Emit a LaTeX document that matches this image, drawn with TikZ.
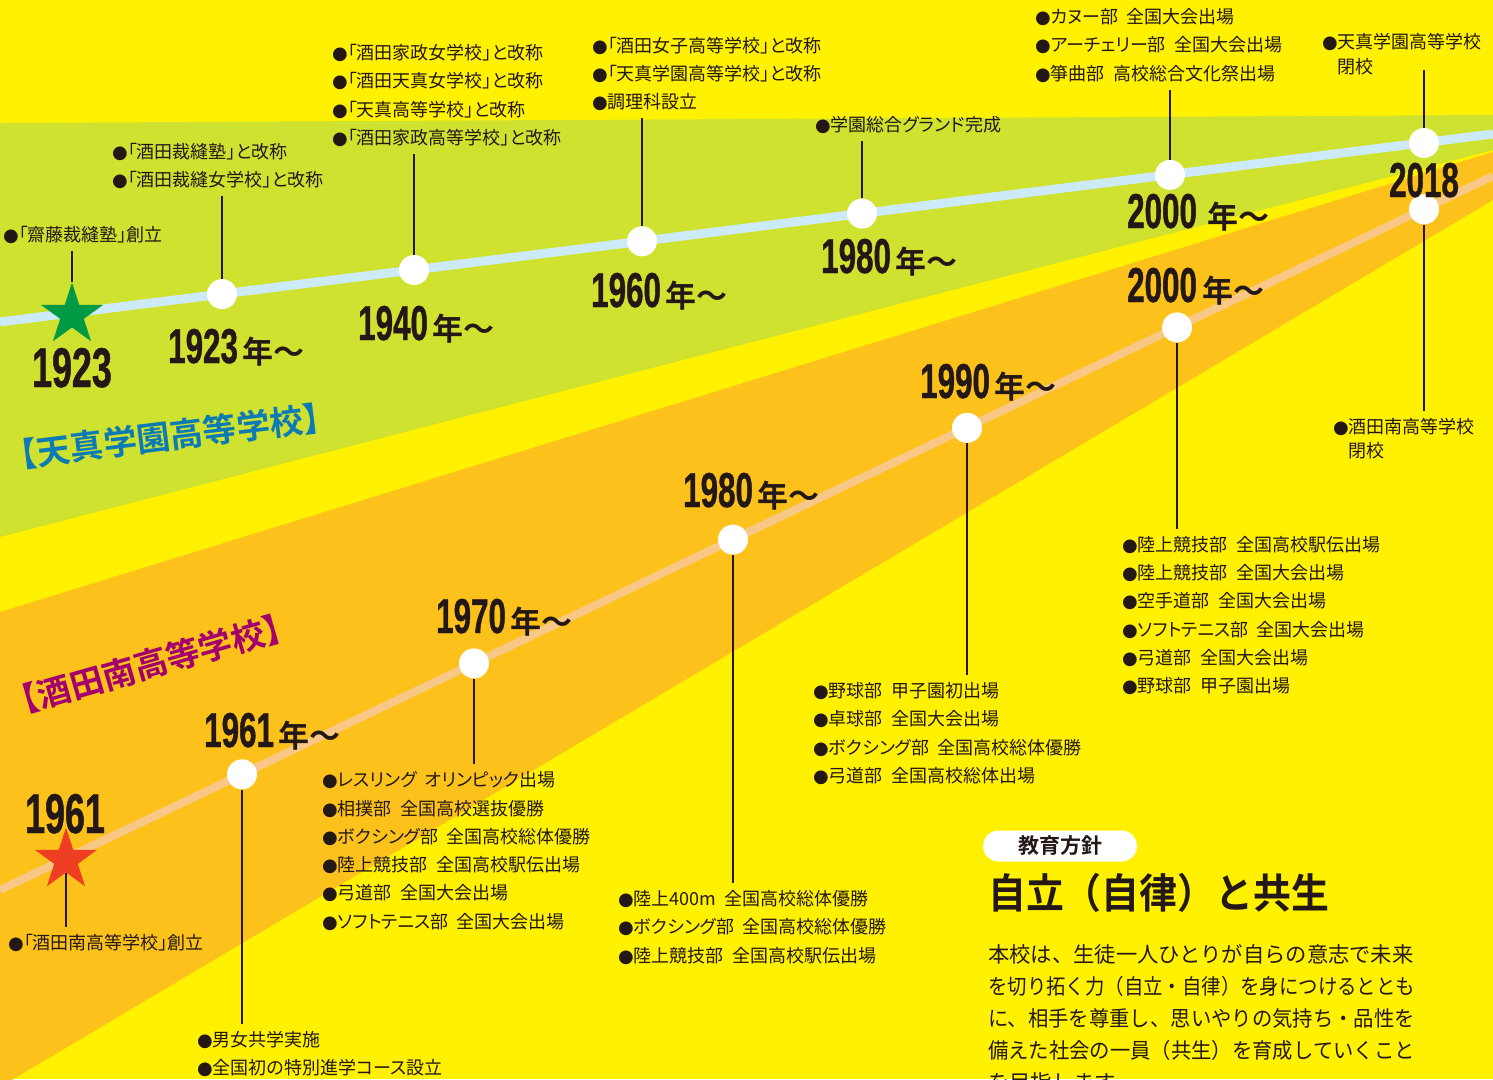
\documentclass[tikz,border=0pt]{standalone}
\usepackage{fontspec}
\usepackage{graphicx}
\usetikzlibrary{shapes.geometric}
\newfontfamily\jp{Noto Sans CJK JP}[BoldFont={Noto Sans CJK JP Bold}]
\newfontfamily\jpp{Noto Sans CJK JP}[BoldFont={Noto Sans CJK JP Bold},RawFeature=+palt]
\newfontfamily\yrfont{Liberation Sans Bold}[FakeStretch=0.64,FakeBold=0.8]
\newfontfamily\dv{DejaVu Sans}
\definecolor{bgyellow}{HTML}{FFF100}
\definecolor{bandgreen}{HTML}{CFE22F}
\definecolor{bandorange}{HTML}{FCC21B}
\definecolor{lblue}{HTML}{CDEAF8}
\definecolor{peach}{HTML}{FAC886}
\definecolor{ink}{HTML}{231815}
\definecolor{stargreen}{HTML}{009944}
\definecolor{starred}{HTML}{EE3F22}
\definecolor{tblue}{HTML}{0C7BB5}
\definecolor{tmag}{HTML}{A3006E}
\newcommand\bul{{\dv ●}}
\newcommand\jsp{\hspace{0.45em}}
\newcommand\yrl[2]{{\yrfont\fontsize{49}{49}\selectfont #1}\hspace{#2}{\jpp\bfseries\fontsize{31}{31}\selectfont 年〜}}
\tikzset{
  lst/.style={anchor=west, align=left, inner xsep=0pt, inner ysep=7pt, text=ink,
    font=\jpp\fontsize{18}{28.3}\selectfont},
  lsttwo/.style={lst, font=\jpp\fontsize{18}{24.5}\selectfont},
  yrs/.style={anchor=base west, inner sep=0pt, text=ink},
  bigyr/.style={anchor=base, inner sep=0pt, text=ink, font=\yrfont\fontsize{56}{56}\selectfont},
  tdot/.style={circle, fill=white, minimum size=30pt, inner sep=0pt},
  stemline/.style={draw=ink, line width=2.8pt},
  bigstar/.style={star, star points=5, star point ratio=2.618, inner sep=0pt, minimum size=65pt},
  partext/.style={anchor=west, inner sep=0pt, text=ink, font=\jp\fontsize{21.3}{21.3}\selectfont},
}
\begin{document}
\begin{tikzpicture}[x=1pt,y=-1pt]
\useasboundingbox (0,0) rectangle (1493,1079);
\clip (0,0) rectangle (1493,1079);
% background and bands
\fill[bgyellow] (0,0) rectangle (1493,1079);
\fill[bandgreen] (0,123) -- (1493,115) -- (1493,150) -- (0,537) -- cycle;
\fill[bandorange] (0,612) -- (1493,152) -- (1493,200) -- (0,1087) -- cycle;
% timelines
\coordinate (b0) at (0,322); \coordinate (b1) at (1493,134);
\draw[line width=9pt, lblue] (b0) -- (b1);
\coordinate (p0) at (0,890); \coordinate (p1) at (1493,176);
\draw[line width=8pt, peach] (p0) -- (p1);
% titles
\node[rotate=7, text=tblue, font=\jp\bfseries\fontsize{33.5}{33.5}\selectfont] (title1) at (170,436) {【天真学園高等学校】};
\node[rotate=16, text=tmag, font=\jp\bfseries\fontsize{33.5}{33.5}\selectfont] (title2) at (151,664) {【酒田南高等学校】};
% circles on Tenshin line
\node[tdot] (c1) at (222,294.1) {};
\node[tdot] (c2) at (414,270) {};
\node[tdot] (c3) at (642,241.3) {};
\node[tdot] (c4) at (862,213.6) {};
\node[tdot] (c5) at (1170,174.9) {};
\node[tdot] (c6) at (1424,143) {};
% circles on Sakata Minami line
\node[tdot] (d1) at (242,774.3) {};
\node[tdot] (d2) at (474,663.4) {};
\node[tdot] (d3) at (733,539.6) {};
\node[tdot] (d4) at (967,427.8) {};
\node[tdot] (d5) at (1177,327.4) {};
\node[tdot] (d6) at (1424,209.3) {};
% stars
\node[bigstar, fill=stargreen] (gstar) at (72,315) {};
\node[bigstar, fill=starred] (rstar) at (66,860) {};
% Tenshin texts
\node[lst] (t0) at (3,235) {\bul 「齋藤裁縫塾」創立};
\node[lst] (t1) at (112,166) {\bul 「酒田裁縫塾」と改称\\\bul 「酒田裁縫女学校」と改称};
\node[lst] (t2) at (332,95.5) {\bul 「酒田家政女学校」と改称\\\bul 「酒田天真女学校」と改称\\\bul 「天真高等学校」と改称\\\bul 「酒田家政高等学校」と改称};
\node[lst] (t3) at (592,74) {\bul 「酒田女子高等学校」と改称\\\bul 「天真学園高等学校」と改称\\\bul 調理科設立};
\node[lst] (t4) at (815,125) {\bul 学園総合グランド完成};
\node[lst] (t5) at (1035,45.5) {\bul カヌー部\jsp 全国大会出場\\\bul アーチェリー部\jsp 全国大会出場\\\bul 箏曲部\jsp 高校総合文化祭出場};
\node[lsttwo] (t6) at (1322,54.5) {\bul 天真学園高等学校\\\phantom{\bul}閉校};
\coordinate (t6e) at (1424,70);
% Sakata Minami texts
\node[lst] (s0) at (8,943) {\bul 「酒田南高等学校」創立};
\node[lst] (s1) at (197,1054) {\bul 男女共学実施\\\bul 全国初の特別進学コース設立};
\node[lst] (s2) at (322,851) {\bul レスリング\jsp オリンピック出場\\\bul 相撲部\jsp 全国高校選抜優勝\\\bul ボクシング部\jsp 全国高校総体優勝\\\bul 陸上競技部\jsp 全国高校駅伝出場\\\bul 弓道部\jsp 全国大会出場\\\bul ソフトテニス部\jsp 全国大会出場};
\node[lst] (s3) at (618,927.5) {\bul 陸上400m\jsp 全国高校総体優勝\\\bul ボクシング部\jsp 全国高校総体優勝\\\bul 陸上競技部\jsp 全国高校駅伝出場};
\node[lst] (s4) at (813,733.5) {\bul 野球部\jsp 甲子園初出場\\\bul 卓球部\jsp 全国大会出場\\\bul ボクシング部\jsp 全国高校総体優勝\\\bul 弓道部\jsp 全国高校総体出場};
\node[lst] (s5) at (1122,615.5) {\bul 陸上競技部\jsp 全国高校駅伝出場\\\bul 陸上競技部\jsp 全国大会出場\\\bul 空手道部\jsp 全国大会出場\\\bul ソフトテニス部\jsp 全国大会出場\\\bul 弓道部\jsp 全国大会出場\\\bul 野球部\jsp 甲子園出場};
\node[lsttwo] (s6) at (1333,439) {\bul 酒田南高等学校\\\phantom{\bul}閉校};
% stems
\draw[stemline] (gstar) -- (gstar |- t0.south);
\draw[stemline] (c1) -- (c1 |- t1.south);
\draw[stemline] (c2) -- (c2 |- t2.south);
\draw[stemline] (c3) -- (c3 |- t3.south);
\draw[stemline] (c4) -- (c4 |- t4.south);
\draw[stemline] (c5) -- (c5 |- t5.south);
\draw[stemline] (c6) -- (t6e);
\draw[stemline] (rstar) -- (rstar |- s0.north);
\draw[stemline] (d1) -- (d1 |- s1.north);
\draw[stemline] (d2) -- (d2 |- s2.north);
\draw[stemline] (d3) -- (d3 |- s3.north);
\draw[stemline] (d4) -- (d4 |- s4.north);
\draw[stemline] (d5) -- (d5 |- s5.north);
\draw[stemline] (d6) -- (d6 |- s6.north);
% year labels
\node[bigyr] (big1923) at (72,387) {1923};
\node[bigyr] (big1961) at (65,833) {1961};
\node[yrs] (y1923) at (168,363) {\yrl{1923}{5pt}};
\node[yrs] (y1940) at (358,340) {\yrl{1940}{5pt}};
\node[yrs] (y1960) at (591,307) {\yrl{1960}{5pt}};
\node[yrs] (y1980a) at (821,273) {\yrl{1980}{5pt}};
\node[yrs] (y2000a) at (1127,228) {\yrl{2000}{11pt}};
\node[anchor=base, inner sep=0pt, text=ink, font=\yrfont\fontsize{49}{49}\selectfont] (y2018) at (1424,197) {2018};
\node[yrs] (y1961) at (204,747) {\yrl{1961}{5pt}};
\node[yrs] (y1970) at (436,633) {\yrl{1970}{5pt}};
\node[yrs] (y1980b) at (683,507) {\yrl{1980}{5pt}};
\node[yrs] (y1990) at (920,398) {\yrl{1990}{5pt}};
\node[yrs] (y2000b) at (1127,302) {\yrl{2000}{6pt}};
% policy box
\node[fill=white, rounded corners=15.5pt, minimum width=154pt, minimum height=31pt, inner sep=0pt, text=ink, font=\jp\bfseries\fontsize{21}{21}\selectfont] (pill) at (1060,846) {教育方針};
\node[anchor=base west, inner sep=0pt, text=ink] (head) at (988,908) {\scalebox{0.924}[1]{\jp\bfseries\fontsize{41}{41}\selectfont 自立（自律）と共生}};
\node[partext] (par1) at (988,954) {\scalebox{1.0}[1]{本校は、生徒一人ひとりが自らの意志で未来}};
\node[partext] (par2) at (988,986) {\scalebox{0.911}[1]{を切り拓く力（自立・自律）を身につけるととも}};
\node[partext] (par3) at (988,1018) {\scalebox{0.955}[1]{に、相手を尊重し、思いやりの気持ち・品性を}};
\node[partext] (par4) at (988,1050) {\scalebox{0.955}[1]{備えた社会の一員（共生）を育成していくこと}};
\node[partext] (par5) at (988,1082) {を目指します。};
\end{tikzpicture}
\end{document}
